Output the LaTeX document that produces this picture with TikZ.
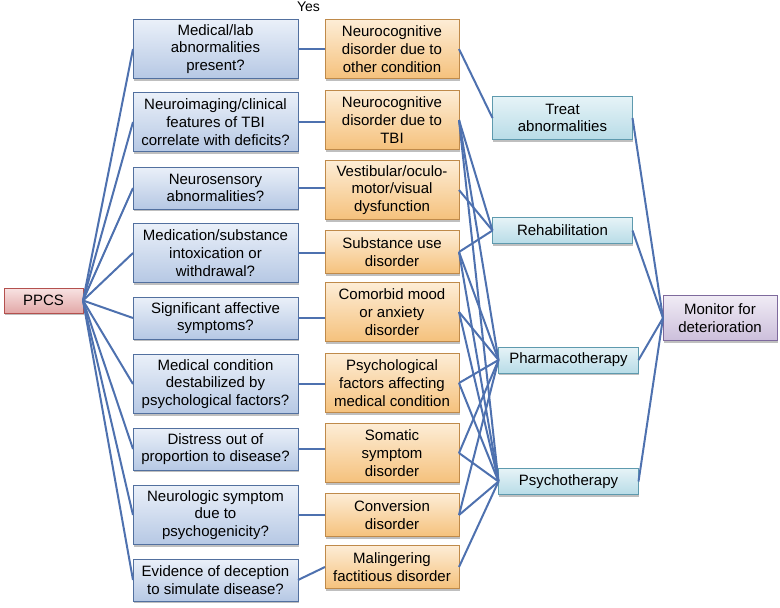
\documentclass[tikz,border=0pt]{standalone}
\usepackage{fontspec}
\setmainfont{Liberation Sans}
\usetikzlibrary{shadows}

\definecolor{qtop}{HTML}{EAF0F9}
\definecolor{qbot}{HTML}{B6C8E4}
\definecolor{qline}{HTML}{52709F}
\definecolor{dtop}{HTML}{FDEDD6}
\definecolor{dbot}{HTML}{F5C17C}
\definecolor{dline}{HTML}{BF8A4A}
\definecolor{ttop}{HTML}{E6F3F7}
\definecolor{tbot}{HTML}{B8DCE7}
\definecolor{tline}{HTML}{5E9AAE}
\definecolor{ptop}{HTML}{F8E3E3}
\definecolor{pbot}{HTML}{E2A8A7}
\definecolor{pline}{HTML}{B4504E}
\definecolor{mtop}{HTML}{F0ECF5}
\definecolor{mbot}{HTML}{CCBEDB}
\definecolor{mline}{HTML}{7E6A9D}
\definecolor{linkblue}{HTML}{4E71AF}

\begin{document}
\begin{tikzpicture}[x=1pt, y=-1pt,
  every node/.style={align=center, inner sep=0pt, outer sep=0pt, font=\fontsize{15}{17.7}\selectfont},
  box/.style={draw, line width=1pt, drop shadow={shadow xshift=0.8pt, shadow yshift=-2pt, opacity=0.5}},
  quest/.style={box, draw=qline, top color=qtop, bottom color=qbot, minimum width=165pt, minimum height=42pt},
  diag/.style={box, draw=dline, top color=dtop, bottom color=dbot, minimum width=134pt, minimum height=43pt},
  tall/.style={minimum height=59pt},
  treat/.style={box, draw=tline, top color=ttop, bottom color=tbot, minimum width=140pt, minimum height=26pt},
  root/.style={box, draw=pline, top color=ptop, bottom color=pbot, minimum width=79pt, minimum height=25pt},
  final/.style={box, draw=mline, top color=mtop, bottom color=mbot, minimum width=114pt, minimum height=45pt},
  link/.style={draw=linkblue, line width=2pt}]
\useasboundingbox (0,0) rectangle (780,608);

% start
\node[root] (ppcs) at (43.5,300.5) {PPCS};
\node[font=\fontsize{14}{16}\selectfont] (yes) at (308.5,7) {Yes};

% questions
\node[quest, tall] (q1) at (215.5,49) {Medical/lab\\abnormalities\\present?};
\node[quest, tall] (q2) at (215.5,122) {Neuroimaging/clinical\\features of TBI\\correlate with deficits?};
\node[quest] (q3) at (215.5,188) {Neurosensory\\abnormalities?};
\node[quest, tall] (q4) at (215.5,253) {Medication/substance\\intoxication or\\withdrawal?};
\node[quest] (q5) at (215.5,318) {Significant affective\\symptoms?};
\node[quest, tall] (q6) at (215.5,384) {Medical condition\\destabilized by\\psychological factors?};
\node[quest] (q7) at (215.5,449) {Distress out of\\proportion to disease?};
\node[quest, tall] (q8) at (215.5,515) {Neurologic symptom\\due to\\psychogenicity?};
\node[quest] (q9) at (215.5,580) {Evidence of deception\\to simulate disease?};

% diagnoses
\node[diag, tall] (d1) at (392,49) {Neurocognitive\\disorder due to\\other condition};
\node[diag, tall] (d2) at (392,120) {Neurocognitive\\disorder due to\\TBI};
\node[diag, tall] (d3) at (392,190) {Vestibular/oculo-\\motor/visual\\dysfunction};
\node[diag] (d4) at (392,252) {Substance use\\disorder};
\node[diag, tall] (d5) at (392,312) {Comorbid mood\\or anxiety\\disorder};
\node[diag, tall] (d6) at (392,383) {Psychological\\factors affecting\\medical condition};
\node[diag, tall] (d7) at (392,453) {Somatic\\symptom\\disorder};
\node[diag] (d8) at (392,515) {Conversion\\disorder};
\node[diag] (d9) at (392,567) {Malingering\\factitious disorder};

% treatments
\node[treat, minimum height=43pt] (t1) at (562.5,118) {Treat\\abnormalities};
\node[treat] (t2) at (562.5,230.5) {Rehabilitation};
\node[treat] (t3) at (568.5,360) {Pharmacotherapy};
\node[treat] (t4) at (568.5,481.5) {Psychotherapy};

\node[final] (mon) at (720,318) {Monitor for\\deterioration};

% ppcs to questions
\draw[link] (ppcs.east) -- (q1.west);
\draw[link] (ppcs.east) -- (q2.west);
\draw[link] (ppcs.east) -- (q3.west);
\draw[link] (ppcs.east) -- (q4.west);
\draw[link] (ppcs.east) -- (q5.west);
\draw[link] (ppcs.east) -- (q6.west);
\draw[link] (ppcs.east) -- (q7.west);
\draw[link] (ppcs.east) -- (q8.west);
\draw[link] (ppcs.east) -- (q9.west);

% yes branches
\draw[link] (q1.east) -- (q1.east -| d1.west);
\draw[link] (q2.east) -- (q2.east -| d2.west);
\draw[link] (q3.east) -- (q3.east -| d3.west);
\draw[link] (q4.east) -- (q4.east -| d4.west);
\draw[link] (q5.east) -- (q5.east -| d5.west);
\draw[link] (q6.east) -- (q6.east -| d6.west);
\draw[link] (q7.east) -- (q7.east -| d7.west);
\draw[link] (q8.east) -- (q8.east -| d8.west);
\draw[link] (q9.east) -- (d9.west);

% diagnoses to treatments
\draw[link] (d1.east) -- (t1.west);
\draw[link] (d2.east) -- (t2.west);
\draw[link] (d2.east) -- (t3.west);
\draw[link] (d2.east) -- (t4.west);
\draw[link] (d3.east) -- (t2.west);
\draw[link] (d4.east) -- (t2.west);
\draw[link] (d4.east) -- (t3.west);
\draw[link] (d4.east) -- (t4.west);
\draw[link] (d5.east) -- (t3.west);
\draw[link] (d5.east) -- (t4.west);
\draw[link] (d6.east) -- (t3.west);
\draw[link] (d6.east) -- (t4.west);
\draw[link] (d7.east) -- (t3.west);
\draw[link] (d7.east) -- (t4.west);
\draw[link] (d8.east) -- (t3.west);
\draw[link] (d8.east) -- (t4.west);
\draw[link] (d9.east) -- (t4.west);

% treatments to monitoring
\draw[link] (t1.east) -- (mon.west);
\draw[link] (t2.east) -- (mon.west);
\draw[link] (t3.east) -- (mon.west);
\draw[link] (t4.east) -- (mon.west);
\end{tikzpicture}
\end{document}
